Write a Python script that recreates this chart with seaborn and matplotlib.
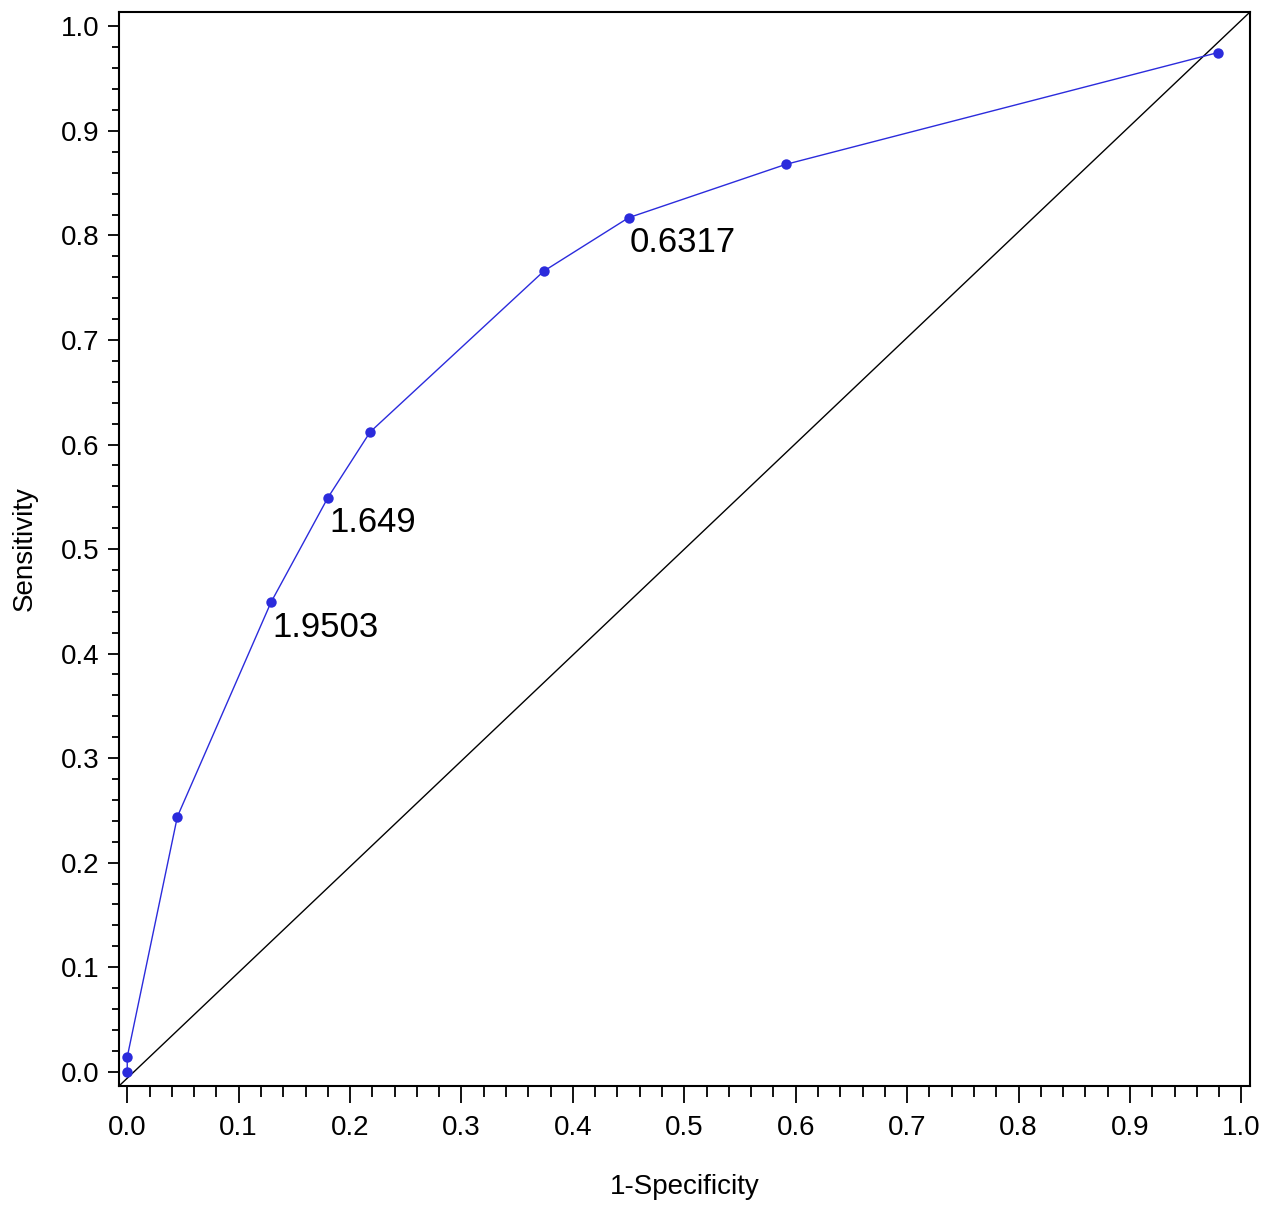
import matplotlib
matplotlib.use("Agg")
import matplotlib.pyplot as plt
import seaborn as sns
import pandas as pd
from matplotlib.ticker import MultipleLocator, FormatStrFormatter

# ROC curve points
one_minus_spec = [0.0, 0.0, 0.045, 0.129, 0.180, 0.218, 0.374, 0.450, 0.591, 0.979]
sensitivity = [0.0, 0.014, 0.244, 0.449, 0.549, 0.612, 0.766, 0.817, 0.868, 0.975]

# cut-off values labelled on the curve
cutoff_labels = ["1.9503", "1.649", "0.6317"]
cutoff_x = [0.129, 0.180, 0.450]
cutoff_y = [0.449, 0.549, 0.817]

df = pd.DataFrame({"fpr": one_minus_spec, "tpr": sensitivity})

sns.set_style("ticks")
plt.rcParams["font.family"] = ["Liberation Sans", "DejaVu Sans"]
plt.rcParams["text.color"] = "black"
plt.rcParams["axes.labelcolor"] = "black"
plt.rcParams["xtick.color"] = "black"
plt.rcParams["ytick.color"] = "black"

fig = plt.figure(figsize=(12.79, 12.05), dpi=100)
ax = fig.add_axes([119 / 1279, 1 - 1086 / 1205, (1250 - 119) / 1279, (1086 - 12) / 1205])

blue = "#2b2bdc"

# chance diagonal, corner to corner
ax.plot([0, 1], [0, 1], transform=ax.transAxes, color="black", lw=1.0, zorder=1)

sns.lineplot(data=df, x="fpr", y="tpr", sort=False, estimator=None, color=blue,
             lw=1.0, ax=ax, marker="o", markersize=7.5, markeredgewidth=0, zorder=3)

for lab, x, y in zip(cutoff_labels, cutoff_x, cutoff_y):
    ax.annotate(lab, xy=(x, y), xytext=(1, -6), textcoords="offset points",
                ha="left", va="top", fontsize=25, color="black")

ax.set_xlim(-0.0074, 1.0077)
ax.set_ylim(-0.0137, 1.0138)

ax.xaxis.set_major_locator(MultipleLocator(0.1))
ax.xaxis.set_minor_locator(MultipleLocator(0.02))
ax.yaxis.set_major_locator(MultipleLocator(0.1))
ax.yaxis.set_minor_locator(MultipleLocator(0.02))
ax.xaxis.set_major_formatter(FormatStrFormatter("%.1f"))
ax.yaxis.set_major_formatter(FormatStrFormatter("%.1f"))

ax.tick_params(axis="x", which="major", length=12, width=1.3, labelsize=20, pad=9,
               colors="black")
ax.tick_params(axis="x", which="minor", length=8, width=1.3, colors="black")
ax.tick_params(axis="y", which="major", length=8, width=1.3, labelsize=20, pad=6,
               colors="black")
ax.tick_params(axis="y", which="minor", length=5, width=1.3, colors="black")

for s in ax.spines.values():
    s.set_visible(True)
    s.set_linewidth(1.5)
    s.set_color("black")

ax.set_xlabel("1-Specificity", fontsize=20, labelpad=24, color="black")
ax.set_ylabel("Sensitivity", fontsize=20, labelpad=17, color="black")

fig.savefig("out.png", dpi=100)
